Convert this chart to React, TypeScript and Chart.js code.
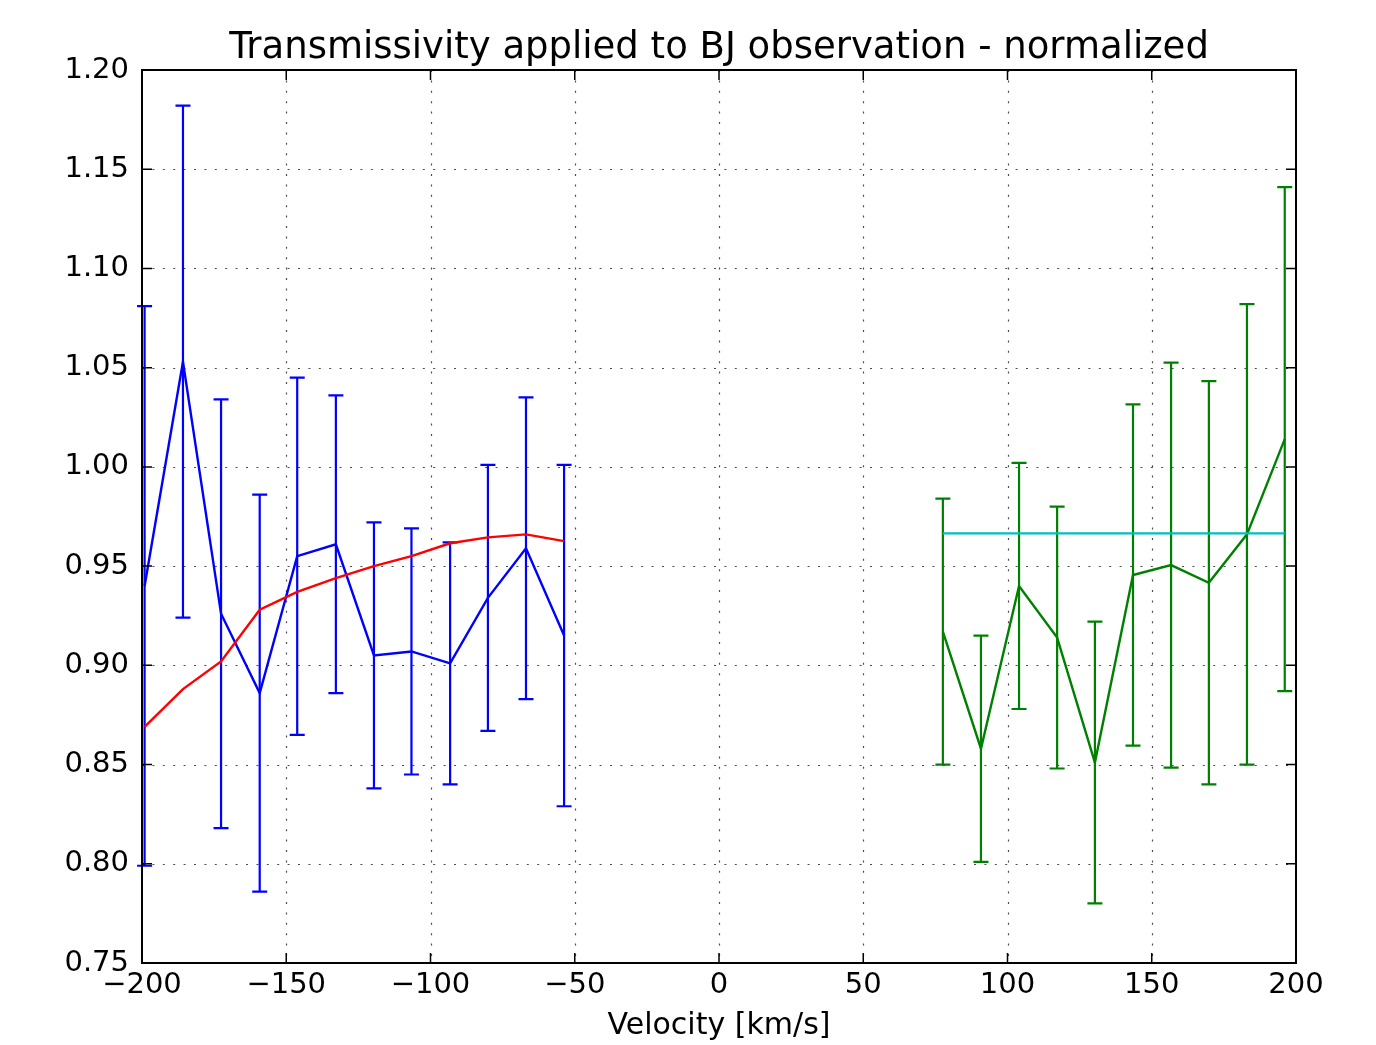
import React, { useEffect, useRef } from 'react';
import { Chart, registerables } from 'chart.js';

Chart.register(...registerables);

// ---- data ----
const chartTitle = 'Transmissivity applied to BJ observation - normalized';
const xTickValues = [-200, -150, -100, -50, 0, 50, 100, 150, 200];
const yTickValues = [0.75, 0.8, 0.85, 0.9, 0.95, 1.0, 1.05, 1.1, 1.15, 1.2];

const blueVelocity = [-199.1, -185.8, -172.6, -159.2, -146.2, -132.8, -119.6, -106.6, -93.2, -80.1, -66.9, -53.7];
const blueValues = [0.940, 1.053, 0.926, 0.886, 0.955, 0.961, 0.905, 0.907, 0.901, 0.934, 0.959, 0.915];
const blueErrors = [0.141, 0.129, 0.108, 0.100, 0.090, 0.075, 0.067, 0.062, 0.061, 0.067, 0.076, 0.086];
const redValues = [0.869, 0.888, 0.902, 0.928, 0.937, 0.944, 0.950, 0.955, 0.9615, 0.9645, 0.966, 0.9626];

const greenVelocity = [77.6, 90.8, 104.0, 117.2, 130.3, 143.5, 156.7, 169.8, 183.0, 196.1];
const greenValues = [0.917, 0.858, 0.940, 0.914, 0.851, 0.9455, 0.9505, 0.9416, 0.966, 1.014];
const greenErrors = [0.067, 0.057, 0.062, 0.066, 0.071, 0.086, 0.102, 0.1016, 0.116, 0.127];

const cyanLevel = 0.9665;

const FONT = "'DejaVu Sans', 'Noto Sans', sans-serif";

const fmtX = (v: number) => (v < 0 ? '\u2212' + Math.abs(v) : String(v));
const fmtY = (v: number) => v.toFixed(2);

const decorPlugin = {
  id: 'decor',
  beforeDatasetsDraw(chart: any) {
    const { ctx, chartArea } = chart;
    const xs = chart.scales.x;
    const ys = chart.scales.y;
    const { left, right, top, bottom } = chartArea;
    ctx.save();
    // dotted grid
    ctx.strokeStyle = 'rgba(0,0,0,0.7)';
    ctx.lineWidth = 1.2;
    ctx.setLineDash([2, 8.4]);
    xTickValues.forEach((v) => {
      const x = Math.round(xs.getPixelForValue(v)) + 0.5;
      if (x <= left + 1 || x >= right - 1) return;
      ctx.beginPath();
      ctx.moveTo(x, top);
      ctx.lineTo(x, bottom);
      ctx.stroke();
    });
    yTickValues.forEach((v) => {
      const y = Math.round(ys.getPixelForValue(v)) + 0.5;
      if (y <= top + 1 || y >= bottom - 1) return;
      ctx.beginPath();
      ctx.moveTo(left, y);
      ctx.lineTo(right, y);
      ctx.stroke();
    });
    ctx.setLineDash([]);
    // error bars
    chart.data.datasets.forEach((ds: any) => {
      if (!ds.errors) return;
      ctx.strokeStyle = ds.borderColor;
      ctx.lineWidth = 2.2;
      ds.data.forEach((p: any, j: number) => {
        const e = ds.errors[j];
        const x = xs.getPixelForValue(p.x);
        const y1 = ys.getPixelForValue(p.y + e);
        const y2 = ys.getPixelForValue(p.y - e);
        const cap = 7.5;
        ctx.beginPath();
        ctx.moveTo(x, y1);
        ctx.lineTo(x, y2);
        ctx.moveTo(x - cap, y1);
        ctx.lineTo(x + cap, y1);
        ctx.moveTo(x - cap, y2);
        ctx.lineTo(x + cap, y2);
        ctx.stroke();
      });
    });
    ctx.restore();
  },
  afterDatasetsDraw(chart: any) {
    const { ctx, chartArea } = chart;
    const xs = chart.scales.x;
    const ys = chart.scales.y;
    const { left, right, top, bottom } = chartArea;
    ctx.save();
    ctx.strokeStyle = '#000';
    ctx.lineWidth = 1.5;
    const tl = 10;
    xTickValues.forEach((v) => {
      const x = xs.getPixelForValue(v);
      ctx.beginPath();
      ctx.moveTo(x, bottom);
      ctx.lineTo(x, bottom - tl);
      ctx.moveTo(x, top);
      ctx.lineTo(x, top + tl);
      ctx.stroke();
    });
    yTickValues.forEach((v) => {
      const y = ys.getPixelForValue(v);
      ctx.beginPath();
      ctx.moveTo(left, y);
      ctx.lineTo(left + tl, y);
      ctx.moveTo(right, y);
      ctx.lineTo(right - tl, y);
      ctx.stroke();
    });
    ctx.lineWidth = 2;
    ctx.strokeRect(left, top, right - left, bottom - top);
    // title centred over the plot area
    ctx.fillStyle = '#000';
    ctx.font = `37px ${FONT}`;
    ctx.textAlign = 'center';
    ctx.textBaseline = 'alphabetic';
    ctx.fillText(chartTitle, (left + right) / 2, top - 12);
    ctx.restore();
  },
};

export default function App() {
  const ref = useRef<HTMLCanvasElement | null>(null);

  useEffect(() => {
    if (!ref.current) return;
    const chart = new Chart(ref.current, {
      type: 'line',
      data: {
        datasets: [
          {
            label: 'model level',
            data: [
              { x: greenVelocity[0], y: cyanLevel },
              { x: greenVelocity[greenVelocity.length - 1], y: cyanLevel },
            ],
            borderColor: '#00bfbf',
            borderWidth: 2.2,
            pointRadius: 0,
            order: 0,
          },
          {
            label: 'red side',
            data: greenVelocity.map((x, i) => ({ x, y: greenValues[i] })),
            errors: greenErrors,
            borderColor: '#008000',
            borderWidth: 2.4,
            pointRadius: 0,
            order: 1,
          } as any,
          {
            label: 'fit',
            data: blueVelocity.map((x, i) => ({ x, y: redValues[i] })),
            borderColor: '#ff0000',
            borderWidth: 2.4,
            pointRadius: 0,
            order: 2,
          },
          {
            label: 'blue side',
            data: blueVelocity.map((x, i) => ({ x, y: blueValues[i] })),
            errors: blueErrors,
            borderColor: '#0000ff',
            borderWidth: 2.4,
            pointRadius: 0,
            order: 3,
          } as any,
        ],
      },
      options: {
        responsive: false,
        animation: false,
        devicePixelRatio: 1,
        layout: { padding: { left: 0, right: 80, top: 70, bottom: 0 } },
        plugins: {
          legend: { display: false },
          tooltip: { enabled: false },
          title: { display: false },
        },
        scales: {
          x: {
            type: 'linear',
            min: -200,
            max: 200,
            afterBuildTicks: (s: any) => {
              s.ticks = xTickValues.map((v) => ({ value: v }));
            },
            afterFit: (s: any) => {
              s.height = 82;
            },
            grid: { display: false, drawTicks: false },
            border: { display: false },
            ticks: {
              color: '#000',
              font: { family: FONT, size: 29 },
              padding: 5,
              maxRotation: 0,
              autoSkip: false,
              callback: (v: any) => fmtX(Number(v)),
            },
            title: {
              display: true,
              text: 'Velocity [km/s]',
              color: '#000',
              font: { family: FONT, size: 30 },
              padding: { top: 0, bottom: 1 },
            },
          },
          y: {
            type: 'linear',
            min: 0.75,
            max: 1.2,
            afterBuildTicks: (s: any) => {
              s.ticks = yTickValues.map((v) => ({ value: v }));
            },
            afterFit: (s: any) => {
              s.width = 142;
            },
            grid: { display: false, drawTicks: false },
            border: { display: false },
            ticks: {
              color: '#000',
              font: { family: FONT, size: 29 },
              padding: 13,
              autoSkip: false,
              callback: (v: any) => fmtY(Number(v)),
            },
          },
        },
      },
      plugins: [decorPlugin],
    } as any);
    return () => chart.destroy();
  }, []);

  return (
    <div style={{ position: 'absolute', left: 0, top: 0, width: 1376, height: 1045, background: '#fff' }}>
      <canvas ref={ref} width={1376} height={1045} />
    </div>
  );
}
